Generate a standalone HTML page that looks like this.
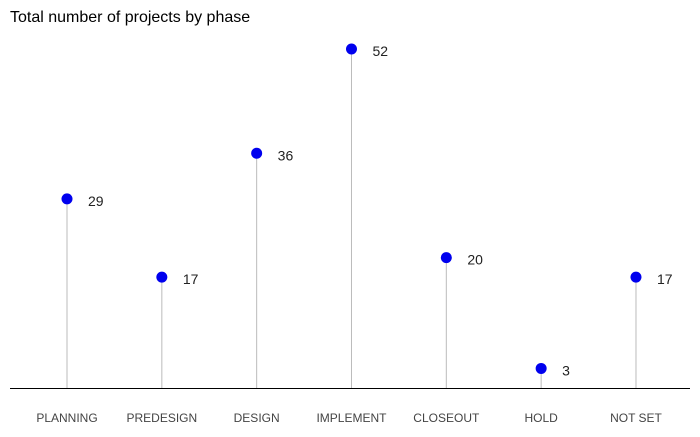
<!DOCTYPE html>
<html><head><meta charset="utf-8"><style>
body{margin:0;background:#fff;font-family:"Liberation Sans",sans-serif;}
</style></head><body>
<svg id="chart" width="700" height="432" xmlns="http://www.w3.org/2000/svg">
<text x="10" y="22" font-size="16" fill="#000">Total number of projects by phase</text>
<line x1="10" y1="388.5" x2="690" y2="388.5" stroke="#000" stroke-width="1"/>
<g id="marks"></g>
</svg>
<script>
const categories=["PLANNING","PREDESIGN","DESIGN","IMPLEMENT","CLOSEOUT","HOLD","NOT SET"];
const values=[29,17,36,52,20,3,17];
const ns="http://www.w3.org/2000/svg";
const g=document.getElementById('marks');
const x=i=>67+i*94.83;
const y=v=>388-v*6.52;
function mk(t,a){const e=document.createElementNS(ns,t);for(const k in a)e.setAttribute(k,a[k]);g.appendChild(e);return e;}
categories.forEach((c,i)=>{
 const l=mk('line',{x1:x(i),x2:x(i),y1:388,y2:y(values[i]),stroke:'#bbb','stroke-width':1});
 
 
 const p=mk('circle',{cx:x(i),cy:y(values[i]),r:5.5,fill:'#0000ee'});
 
 
 const v=mk('text',{x:x(i)+21,y:y(values[i])+7,'font-size':14,fill:'#222'});
 v.textContent=values[i];
 
 
 const t=mk('text',{x:x(i),y:422,'font-size':12,fill:'#444','text-anchor':'middle'});
 t.textContent=c;
 
 
});
</script>
</body></html>
